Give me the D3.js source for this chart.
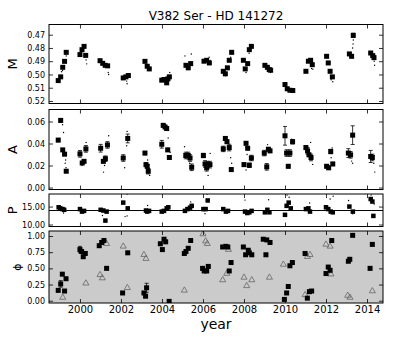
<!DOCTYPE html>
<html>
<head>
<meta charset="utf-8">
<script src="https://cdn.jsdelivr.net/npm/d3@7"></script>
<style>
  body { margin: 0; background: #fff; }
  svg text { font-family: "DejaVu Sans", sans-serif; fill: #000; }
</style>
</head>
<body>
<div id="chart"></div>
<script>
// ---- data: [year, value, error] ----
const mPoints = [
  [1998.94, 0.5046, 0.0006], [1999.06, 0.5018, 0.0006], [1999.16, 0.4946, 0.0006], [1999.25, 0.4901, 0.0006], [1999.33, 0.4833, 0.0006],
  [2000.00, 0.4850, 0.0006], [2000.10, 0.4813, 0.0006], [2000.20, 0.4788, 0.0006], [2000.28, 0.4856, 0.0006],
  [2000.98, 0.4896, 0.0006], [2001.11, 0.4916, 0.0006], [2001.23, 0.4931, 0.0006], [2001.35, 0.4935, 0.0006],
  [2002.11, 0.5026, 0.0006], [2002.24, 0.5018, 0.0006], [2002.36, 0.5008, 0.0006],
  [2003.17, 0.4901, 0.0006], [2003.28, 0.4938, 0.0006], [2003.38, 0.4958, 0.0006],
  [2003.99, 0.5043, 0.0006], [2004.10, 0.5038, 0.0006], [2004.23, 0.5063, 0.0006], [2004.29, 0.5033, 0.0006], [2004.36, 0.5018, 0.0006],
  [2005.17, 0.4931, 0.0006], [2005.28, 0.4950, 0.0006], [2005.40, 0.4918, 0.0006],
  [2006.05, 0.4900, 0.0006], [2006.18, 0.4893, 0.0006], [2006.31, 0.4913, 0.0006],
  [2006.99, 0.4976, 0.0006], [2007.09, 0.4995, 0.0006], [2007.19, 0.4950, 0.0006], [2007.28, 0.4893, 0.0006], [2007.40, 0.4833, 0.0006],
  [2007.97, 0.4893, 0.0006], [2008.06, 0.4958, 0.0006], [2008.18, 0.4918, 0.0006], [2008.26, 0.4813, 0.0006], [2008.36, 0.4788, 0.0006],
  [2009.02, 0.4931, 0.0006], [2009.14, 0.4946, 0.0006], [2009.23, 0.4963, 0.0006], [2009.30, 0.4968, 0.0006],
  [2010.00, 0.5076, 0.0006], [2010.11, 0.5108, 0.0006], [2010.24, 0.5119, 0.0006], [2010.38, 0.5121, 0.0006],
  [2011.02, 0.4976, 0.0006], [2011.14, 0.4900, 0.0006], [2011.25, 0.4893, 0.0006], [2011.33, 0.4926, 0.0006],
  [2012.03, 0.4863, 0.0006], [2012.11, 0.4913, 0.0006], [2012.20, 0.4976, 0.0006], [2012.31, 0.5018, 0.0006],
  [2013.14, 0.4845, 0.0006], [2013.25, 0.4863, 0.0006], [2013.33, 0.4705, 0.0016],
  [2014.18, 0.4838, 0.0006], [2014.28, 0.4858, 0.0006], [2014.34, 0.4873, 0.0006]
];
const mDots = [
  [1999.10, 0.4980], [1999.15, 0.4970], [1999.33, 0.4860], [2000.30, 0.4890], [2000.33, 0.4920],
  [2001.38, 0.4985], [2001.40, 0.5000], [2002.28, 0.5050], [2002.30, 0.5070], [2003.30, 0.4930],
  [2004.20, 0.5060], [2004.38, 0.4985], [2005.12, 0.4860], [2005.43, 0.4845], [2005.30, 0.4940],
  [2006.30, 0.4870], [2006.35, 0.4895], [2007.10, 0.5010], [2007.35, 0.4870], [2008.10, 0.4985],
  [2008.25, 0.4840], [2009.30, 0.4985], [2010.30, 0.5125], [2011.30, 0.4955], [2011.36, 0.4960],
  [2012.25, 0.5040], [2012.33, 0.5055], [2013.33, 0.4740], [2013.32, 0.4770], [2013.30, 0.4800],
  [2014.35, 0.4900], [2014.37, 0.4930]
];
const aPoints = [
  [1998.94, 0.0431, 0.0015], [1999.06, 0.0610, 0.0015], [1999.16, 0.0342, 0.0012], [1999.25, 0.0303, 0.0012], [1999.33, 0.0148, 0.0012],
  [2000.00, 0.0306, 0.0030], [2000.11, 0.0223, 0.0012], [2000.20, 0.0238, 0.0012], [2000.29, 0.0351, 0.0030],
  [2001.01, 0.0357, 0.0035], [2001.14, 0.0238, 0.0012], [2001.24, 0.0262, 0.0025], [2001.34, 0.0387, 0.0030],
  [2002.11, 0.0268, 0.0030], [2002.33, 0.0446, 0.0040],
  [2003.17, 0.0313, 0.0015], [2003.22, 0.0208, 0.0015], [2003.28, 0.0193, 0.0015], [2003.33, 0.0148, 0.0025],
  [2003.99, 0.0393, 0.0035], [2004.06, 0.0565, 0.0015], [2004.15, 0.0550, 0.0015], [2004.23, 0.0536, 0.0015], [2004.28, 0.0342, 0.0015], [2004.36, 0.0273, 0.0015],
  [2005.16, 0.0291, 0.0030], [2005.28, 0.0291, 0.0030], [2005.37, 0.0268, 0.0030], [2005.45, 0.0184, 0.0030],
  [2006.02, 0.0291, 0.0020], [2006.10, 0.0214, 0.0030], [2006.18, 0.0179, 0.0030], [2006.23, 0.0208, 0.0030], [2006.34, 0.0208, 0.0030],
  [2006.99, 0.0351, 0.0025], [2007.09, 0.0446, 0.0015], [2007.17, 0.0416, 0.0015], [2007.28, 0.0363, 0.0030], [2007.38, 0.0163, 0.0015],
  [2008.00, 0.0208, 0.0015], [2008.10, 0.0402, 0.0015], [2008.18, 0.0357, 0.0015], [2008.26, 0.0202, 0.0020], [2008.36, 0.0268, 0.0025],
  [2008.99, 0.0313, 0.0025], [2009.11, 0.0188, 0.0030], [2009.19, 0.0348, 0.0015], [2009.27, 0.0333, 0.0015],
  [2010.00, 0.0470, 0.0085], [2010.08, 0.0313, 0.0030], [2010.16, 0.0193, 0.0015], [2010.24, 0.0313, 0.0030], [2010.37, 0.0416, 0.0020],
  [2011.02, 0.0363, 0.0015], [2011.10, 0.0333, 0.0030], [2011.17, 0.0297, 0.0015], [2011.27, 0.0273, 0.0030],
  [2012.03, 0.0193, 0.0015], [2012.13, 0.0179, 0.0015], [2012.23, 0.0327, 0.0020], [2012.33, 0.0214, 0.0015],
  [2013.09, 0.0313, 0.0040], [2013.20, 0.0297, 0.0030], [2013.30, 0.0476, 0.0085],
  [2014.18, 0.0282, 0.0055], [2014.26, 0.0273, 0.0030]
];
const aDots = [
  [1999.15, 0.057], [1999.20, 0.050], [1999.30, 0.025], [1999.28, 0.022], [1999.32, 0.018],
  [2000.10, 0.020], [2000.30, 0.041], [2001.15, 0.014], [2001.20, 0.020], [2001.40, 0.047],
  [2002.30, 0.051], [2002.28, 0.038], [2002.18, 0.018], [2003.30, 0.025], [2003.40, 0.011],
  [2004.30, 0.045], [2004.40, 0.032], [2005.10, 0.037], [2005.35, 0.022], [2006.25, 0.011],
  [2006.35, 0.031], [2007.35, 0.027], [2007.40, 0.022], [2008.10, 0.016], [2008.15, 0.030],
  [2009.15, 0.039], [2010.33, 0.044], [2011.25, 0.041], [2011.35, 0.021], [2012.25, 0.027],
  [2012.30, 0.036], [2013.30, 0.022], [2013.25, 0.024], [2014.38, 0.014], [2014.33, 0.022]
];
const pPoints = [
  [1998.96, 14.8], [1999.04, 14.5], [1999.15, 14.3], [1999.23, 14.1],
  [2000.00, 14.3], [2000.10, 13.6], [2000.20, 13.8],
  [2001.01, 14.1], [2001.14, 13.9], [2001.24, 11.1], [2001.30, 13.6],
  [2002.11, 16.1], [2002.33, 14.5],
  [2003.22, 13.9], [2003.28, 13.6], [2003.37, 13.8],
  [2003.99, 13.6], [2004.10, 13.8], [2004.23, 14.5], [2004.31, 14.8],
  [2005.12, 13.8], [2005.24, 14.3], [2005.37, 14.7], [2005.45, 15.2],
  [2006.02, 14.3], [2006.13, 14.3], [2006.23, 16.7],
  [2006.99, 14.3], [2007.12, 13.6], [2007.22, 13.8],
  [2008.05, 13.6], [2008.16, 13.2], [2008.26, 13.4], [2008.37, 13.8],
  [2009.02, 13.4], [2009.14, 14.1], [2009.24, 13.4],
  [2010.00, 12.7], [2010.08, 15.2], [2010.18, 16.1], [2010.28, 14.5],
  [2011.02, 14.3], [2011.14, 14.5], [2011.22, 13.6],
  [2012.00, 14.8], [2012.11, 14.3], [2012.23, 13.6], [2012.33, 13.4],
  [2013.14, 15.0], [2013.31, 13.6],
  [2014.18, 17.1], [2014.26, 16.4], [2014.31, 12.4]
];
const pDots = [
  [1999.20, 13.2], [2001.10, 12.5], [2002.20, 12.2], [2002.30, 12.4], [2002.30, 18.5],
  [2003.30, 15.3], [2005.40, 16.3], [2006.10, 13.0], [2006.20, 18.5], [2008.05, 16.8],
  [2009.20, 16.9], [2010.10, 18.2], [2010.20, 17.6], [2011.20, 16.0], [2012.20, 17.1],
  [2012.35, 17.9], [2013.10, 16.7], [2013.30, 13.0], [2014.20, 18.2], [2014.35, 15.7]
];
const pMean = 13.9;
const phiSquares = [
  [1998.94, 0.16], [1999.06, 0.26], [1999.14, 0.41], [1999.25, 0.15], [1999.32, 0.34],
  [2000.00, 0.79], [2000.08, 0.76], [2000.16, 0.68], [2000.26, 0.73],
  [2000.94, 0.85], [2001.06, 0.90], [2001.17, 0.93], [2001.30, 0.50],
  [2002.08, 0.12], [2002.33, 0.74],
  [2003.12, 0.12], [2003.20, 0.07], [2003.25, 0.20],
  [2003.92, 0.88], [2004.02, 0.79], [2004.10, 0.95], [2004.18, 0.91], [2004.35, -0.01],
  [2005.09, 0.73], [2005.17, 0.76], [2005.28, 0.81], [2005.40, 0.93],
  [2005.98, 0.50], [2006.06, 0.46], [2006.18, 0.46], [2006.26, 0.53],
  [2006.96, 0.83], [2007.11, 0.84], [2007.21, 0.83], [2007.28, 0.46], [2007.37, 0.59],
  [2007.97, 0.83], [2008.08, 0.71], [2008.21, 0.78], [2008.26, 0.74], [2008.38, 0.71],
  [2008.94, 0.95], [2009.11, 0.94], [2009.27, 0.90], [2009.07, 0.71],
  [2009.97, 0.02], [2010.08, 0.12], [2010.16, 0.22], [2010.24, 0.54], [2010.36, 0.59],
  [2010.98, 0.73], [2011.09, 0.04], [2011.19, 0.14], [2011.30, 0.15],
  [2012.00, 0.42], [2012.11, 0.52], [2012.20, 0.47], [2012.28, 0.93],
  [2013.09, 0.61], [2013.16, 0.64], [2013.30, 1.01],
  [2014.15, 0.50], [2014.26, 0.87]
];
const phiErr = [[1999.06, 0.26, 0.05], [2000.00, 0.79, 0.05], [2003.25, 0.20, 0.07]];
const phiTriangles = [
  [1999.16, 0.05], [2000.29, 0.27],
  [2000.98, 0.40], [2001.09, 0.35], [2001.30, 0.88],
  [2002.11, 0.84], [2002.31, 0.20],
  [2003.12, 0.71], [2003.22, 0.65],
  [2005.09, 0.16],
  [2006.00, 1.03], [2006.13, 0.92], [2006.21, 0.88],
  [2006.96, 0.32], [2007.16, 0.42], [2007.24, 0.79],
  [2008.00, 0.36], [2008.13, 0.23], [2008.38, 0.32],
  [2009.24, 0.36],
  [2009.92, 0.56],
  [2010.98, 0.09], [2011.09, 0.68], [2011.22, 0.71],
  [2012.00, 0.87], [2012.20, 0.84], [2012.24, 0.41],
  [2013.06, 0.08], [2013.17, 0.05],
  [2014.26, 0.15]
];
const yearTicks = [2000, 2002, 2004, 2006, 2008, 2010, 2012, 2014];
const mTicks = [0.47, 0.48, 0.49, 0.50, 0.51, 0.52];
const aTicks = [0.00, 0.02, 0.04, 0.06];
const pTicks = [10, 15];
const phiTicks = [0, 0.25, 0.5, 0.75, 1.0];

// ---- layout ----
const W = 403, H = 337;
const left = 49, right = 383;
const svg = d3.select('#chart').append('svg').attr('width', W).attr('height', H);

const x = d3.scaleLinear().domain([1998.49, 2014.78]).range([left, right]);

const panels = [
  { key: 'M', top: 24.5, bottom: 103.5, domain: [0.5219, 0.4623], ticks: mTicks, label: 'M' },
  { key: 'A', top: 109.5, bottom: 189.5, domain: [-0.0018, 0.0709], ticks: aTicks, label: 'A' },
  { key: 'P', top: 194, bottom: 226.5, domain: [9.45, 18.5], ticks: pTicks, label: 'P' },
  { key: 'phi', top: 231, bottom: 303, domain: [-0.035, 1.077], ticks: phiTicks, label: 'ϕ', bg: '#cbcbcb' }
];

panels.forEach(p => {
  p.y = d3.scaleLinear().domain(p.domain).range([p.bottom, p.top]);
  const clipId = 'clip-' + p.key;
  svg.append('clipPath').attr('id', clipId)
    .append('rect').attr('x', left).attr('y', p.top).attr('width', right - left).attr('height', p.bottom - p.top);
  svg.append('rect')
    .attr('x', left).attr('y', p.top).attr('width', right - left).attr('height', p.bottom - p.top)
    .attr('fill', p.bg || '#fff');
  p.plot = svg.append('g').attr('clip-path', `url(#${clipId})`);
});

const fmt2 = d3.format('.2f');

function drawAxes(p, showYears) {
  const g = svg.append('g');
  // inward ticks on all four sides
  g.append('g').attr('transform', `translate(0,${p.bottom})`)
    .call(d3.axisBottom(x).tickValues(yearTicks).tickSize(-4).tickFormat(showYears ? d3.format('d') : ''))
    .call(a => a.selectAll('text').attr('y', 3).attr('dy', '0.71em').style('font-size', '10px'));
  g.append('g').attr('transform', `translate(0,${p.top})`)
    .call(d3.axisTop(x).tickValues(yearTicks).tickSize(-4).tickFormat(''));
  g.append('g').attr('transform', `translate(${left},0)`)
    .call(d3.axisLeft(p.y).tickValues(p.ticks).tickSize(-4).tickFormat(fmt2))
    .call(a => a.selectAll('text').attr('x', -4).style('font-size', '8px'));
  g.append('g').attr('transform', `translate(${right},0)`)
    .call(d3.axisRight(p.y).tickValues(p.ticks).tickSize(-4).tickFormat(''));
  g.selectAll('.domain').remove();
  g.selectAll('.tick line').attr('stroke', '#000').attr('stroke-width', 0.8);
  g.append('rect')
    .attr('x', left).attr('y', p.top).attr('width', right - left).attr('height', p.bottom - p.top)
    .attr('fill', 'none').attr('stroke', '#000').attr('stroke-width', 1);
}

function dots(p, data) {
  p.plot.selectAll(null).data(data).enter().append('circle')
    .attr('cx', d => x(d[0])).attr('cy', d => p.y(d[1])).attr('r', 0.7).attr('fill', '#000');
}

function errorBars(p, data) {
  const eb = p.plot.selectAll(null).data(data).enter().append('g')
    .attr('stroke', '#000').attr('stroke-width', 0.8);
  eb.append('line').attr('x1', d => x(d[0])).attr('x2', d => x(d[0]))
    .attr('y1', d => p.y(d[1] - d[2])).attr('y2', d => p.y(d[1] + d[2]));
  eb.append('line').attr('x1', d => x(d[0]) - 2).attr('x2', d => x(d[0]) + 2)
    .attr('y1', d => p.y(d[1] - d[2])).attr('y2', d => p.y(d[1] - d[2]));
  eb.append('line').attr('x1', d => x(d[0]) - 2).attr('x2', d => x(d[0]) + 2)
    .attr('y1', d => p.y(d[1] + d[2])).attr('y2', d => p.y(d[1] + d[2]));
}

function squares(p, data, s = 5) {
  p.plot.selectAll(null).data(data).enter().append('rect')
    .attr('x', d => x(d[0]) - s / 2).attr('y', d => p.y(d[1]) - s / 2)
    .attr('width', s).attr('height', s).attr('fill', '#000');
}

const [pm, pa, pp, pphi] = panels;

dots(pm, mDots);
errorBars(pm, mPoints);
squares(pm, mPoints);

dots(pa, aDots);
errorBars(pa, aPoints);
squares(pa, aPoints);

pp.plot.append('line')
  .attr('x1', left).attr('x2', right).attr('y1', pp.y(pMean)).attr('y2', pp.y(pMean))
  .attr('stroke', '#000').attr('stroke-width', 1);
dots(pp, pDots);
squares(pp, pPoints, 4.5);

const tri = d3.symbol().type(d3.symbolTriangle).size(16);
pphi.plot.selectAll(null).data(phiTriangles).enter().append('path')
  .attr('d', tri)
  .attr('transform', d => `translate(${x(d[0])},${pphi.y(d[1])})`)
  .attr('fill', 'none').attr('stroke', '#666').attr('stroke-width', 0.8);
errorBars(pphi, phiErr);
squares(pphi, phiSquares, 5);

panels.forEach((p, i) => drawAxes(p, i === panels.length - 1));

// y labels
panels.forEach(p => {
  const cy = (p.top + p.bottom) / 2;
  const isPhi = p.key === 'phi';
  svg.append('text')
    .attr('transform', `translate(${isPhi ? 21 : 17},${cy}) rotate(-90)`)
    .attr('text-anchor', 'middle')
    .style('font-size', isPhi ? '11px' : '13px')
    .text(p.label);
});

svg.append('text')
  .attr('x', (left + right) / 2).attr('y', 20)
  .attr('text-anchor', 'middle').style('font-size', '12px')
  .text('V382 Ser - HD 141272');

svg.append('text')
  .attr('x', (left + right) / 2).attr('y', 329)
  .attr('text-anchor', 'middle').style('font-size', '14px')
  .text('year');
</script>
</body>
</html>
